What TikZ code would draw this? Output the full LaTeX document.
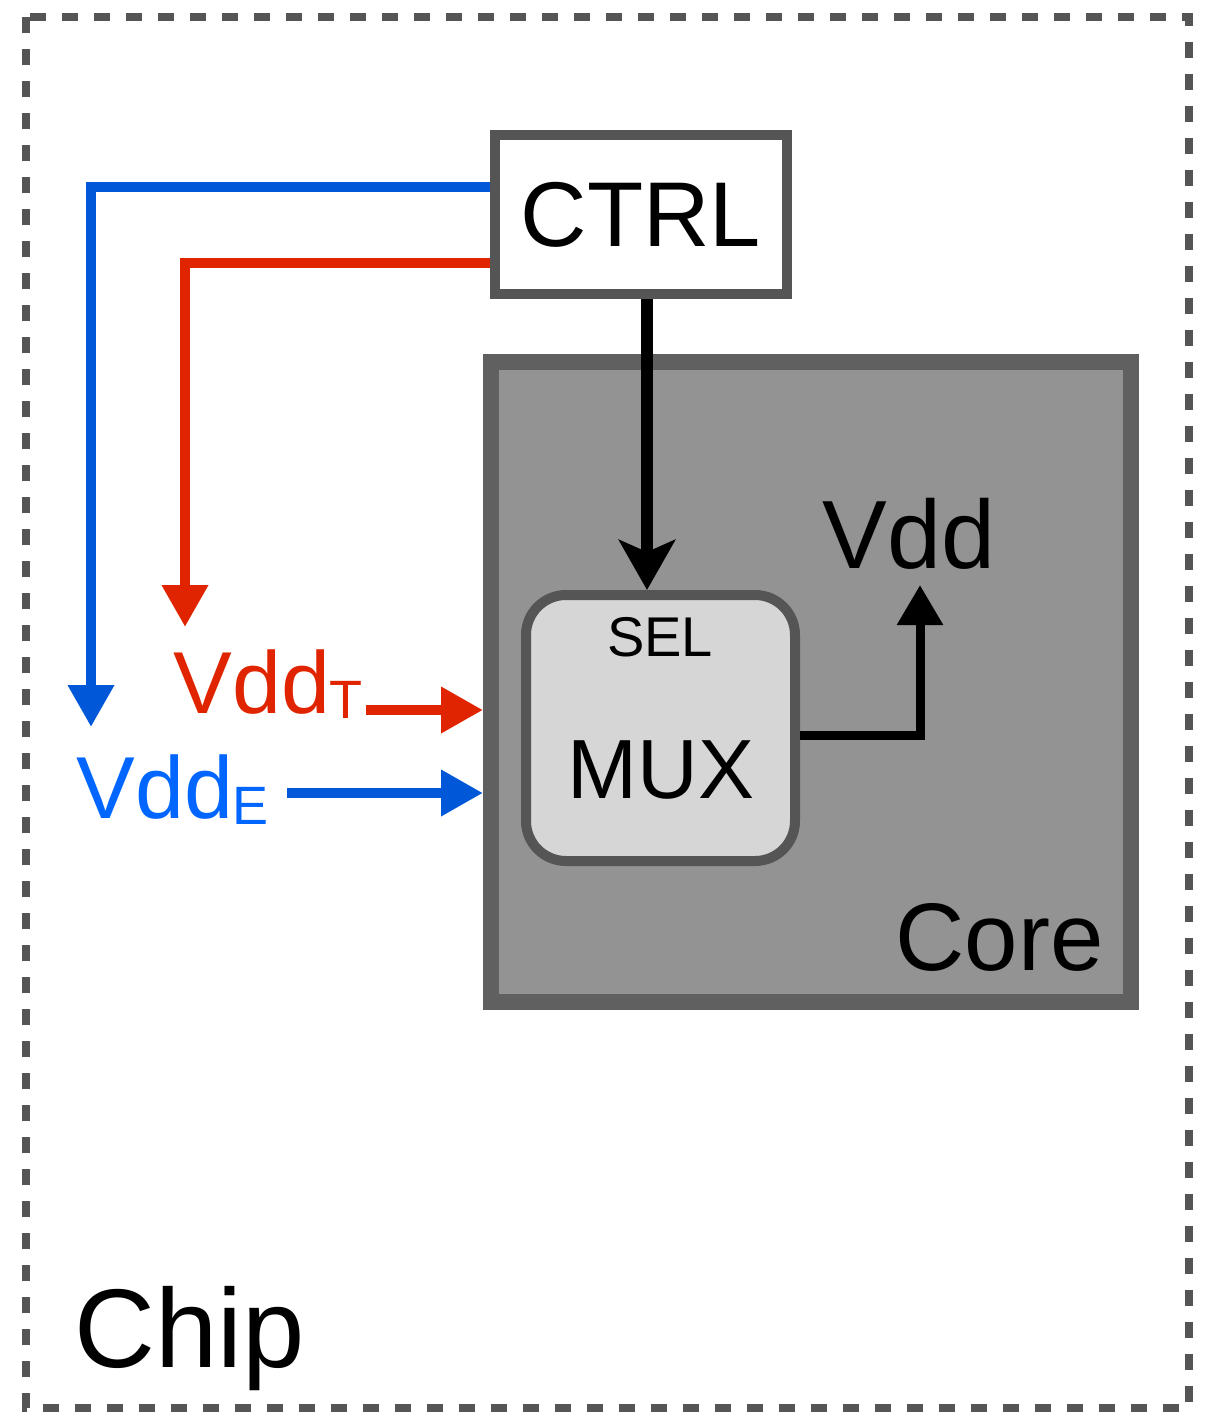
\documentclass[tikz,border=0pt]{standalone}
\usepackage{fontspec}
\setmainfont{Liberation Sans}
\usetikzlibrary{arrows.meta}
\definecolor{wireblue}{RGB}{0,88,216}
\definecolor{textblue}{RGB}{0,102,255}
\definecolor{wirered}{RGB}{224,36,0}
\definecolor{boxgray}{RGB}{85,85,85}
\definecolor{coregray}{RGB}{147,147,147}
\definecolor{coreedge}{RGB}{96,96,96}
\definecolor{muxfill}{RGB}{214,214,214}
\begin{document}
\begin{tikzpicture}[x=0.5pt,y=-0.5pt,
  lbl/.style={inner sep=0pt,anchor=base west},
  wire/.style={line width=5pt,-{Triangle[width=22pt,length=21pt]}},
  bluewire/.style={wire,draw=wireblue},
  redwire/.style={wire,draw=wirered}]
\useasboundingbox (0,0) rectangle (1211,1412);
% chip outline
\draw[boxgray,line width=4pt,dash pattern=on 8pt off 8pt] (26,17) rectangle (1189,1408);
\node[lbl,font=\fontsize{56}{56}\selectfont] (chip) at (74,1367) {Chip};
% core with the mux
\node[draw=coreedge,fill=coregray,line width=8pt,minimum width=320pt,minimum height=320pt] (core) at (811,681.5) {};
\node[inner sep=0pt,anchor=base east,font=\fontsize{48}{48}\selectfont] (corelabel) at (1104,970) {Core};
\node[draw=boxgray,fill=muxfill,line width=5pt,rounded corners=20pt,minimum width=134.5pt,minimum height=133pt] (mux) at (660.5,728) {};
\node[inner sep=0pt,font=\fontsize{28}{28}\selectfont] (sel) at (660,637) {SEL};
\node[inner sep=0pt,font=\fontsize{42}{42}\selectfont] (muxtext) at (661,770) {MUX};
\node[lbl,font=\fontsize{48.5}{48.5}\selectfont] (vdd) at (822,568) {Vdd};
% controller
\node[draw=boxgray,fill=white,line width=5pt,minimum width=146pt,minimum height=79.5pt,font=\fontsize{46}{46}\selectfont] (ctrl) at (641,214.5) {CTRL};
% supply labels
\node[lbl,text=wirered,font=\fontsize{44}{44}\selectfont] (vddt) at (173,713) {Vdd{\fontsize{27}{27}\selectfont\raisebox{-2.5pt}{T}}};
\node[lbl,text=textblue,font=\fontsize{44}{44}\selectfont] (vdde) at (76,818) {Vdd{\fontsize{27}{27}\selectfont\raisebox{-3pt}{E}}};
\coordinate (etip) at (91,727);
\coordinate (ttip) at (185,627);
\coordinate (tin) at (481,710);
\coordinate (ein) at (488,793);
\coordinate (selin) at (647,590);
\coordinate (vddin) at (920,585);
% wires
\draw[bluewire] ([yshift=13.75pt]ctrl.west) -| (etip);
\draw[redwire] ([yshift=-24.25pt]ctrl.west) -| (ttip);
\draw[redwire] ([xshift=1.5pt]vddt.east |- tin) -- (core.west |- tin);
\draw[bluewire] ([xshift=9pt]vdde.east |- ein) -- (core.west |- ein);
\draw[line width=6pt,-{Stealth[width=28pt,length=25pt,inset=6pt]}] (ctrl.south -| selin) -- (mux.north -| selin);
\draw[line width=4.5pt,-{Triangle[width=22pt,length=20pt]}] ([yshift=-3.5pt]mux.east) -| (vddin);
\end{tikzpicture}
\end{document}
